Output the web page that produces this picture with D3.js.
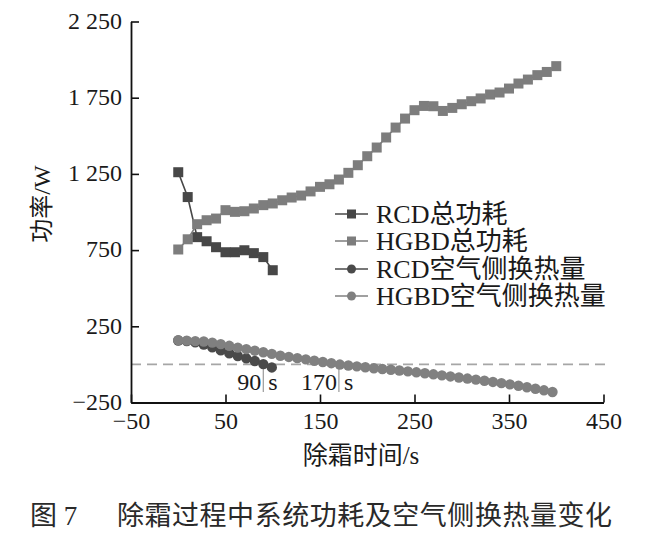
<!DOCTYPE html>
<html><head><meta charset="utf-8">
<script src="https://cdn.jsdelivr.net/npm/d3@7"></script>
<style>body{margin:0;background:#fff} svg{display:block}</style>
</head><body><svg id="c" width="657" height="537"></svg>
<script>
const rcdTotalTime = [0,10,20,30,40,50,60,70,80,90,100];
const rcdTotalPower = [1261,1098,835,808,769,736,736,749,730,704,618];
const hgbdTotalTime = [0,10,20,30,40,50,60,70,80,90,100,110,120,130,140,150,160,170,180,190,200,210,220,230,240,250,260,270,280,290,300,310,320,330,340,350,360,370,380,390,400];
const hgbdTotalPower = [754,821,920,946,957,1012,1001,1005,1023,1045,1056,1077,1095,1108,1135,1165,1182,1213,1257,1307,1366,1423,1489,1554,1613,1668,1696,1694,1663,1683,1707,1727,1745,1771,1784,1810,1843,1869,1898,1919,1957];
const rcdAirTime = [0,9,18,27,36,45,54,63,72,81,90,99];
const rcdAirHeat = [157,153,145,130,112,92,73,55,40,22,2,-20];
const hgbdAirTime = [0,9,18,27,36,45,54,63,72,81,90,99,108,117,126,135,144,153,162,171,180,189,198,207,216,225,234,243,252,261,270,279,288,297,306,315,324,333,342,351,360,369,378,387,396];
const hgbdAirHeat = [159,156,153,150,143,133,122,110,100,90,80,69,57,49,41,33,24,16,8,-1,-7,-13,-19,-25,-30,-35,-40,-46,-52,-58,-65,-72,-79,-86,-93,-100,-107,-115,-123,-131,-140,-150,-160,-170,-181];
const xTicks = [-50,50,150,250,350,450];
const xTickLabels = ["\u221250","50","150","250","350","450"];
const yTicks = [-250,250,750,1250,1750,2250];
const yTickLabels = ["\u2212250","250","750","1 250","1 750","2 250"];
const seriesNames = ["RCD总功耗","HGBD总功耗","RCD空气侧换热量","HGBD空气侧换热量"];
const seriesColors = ["#474747","#7d7d7d","#4a4a4a","#808080"];
const annotTimes = [90,170];
const annotLabels = ["90","170"];
const xTitle = "除霜时间/s";
const yTitle = "功率/W";
const captionNo = "图 7";
const captionText = "除霜过程中系统功耗及空气侧换热量变化";

const svg = d3.select("#c");
const FONT = "'Liberation Serif','Noto Sans CJK SC',serif";
const x = d3.scaleLinear().domain([-50,450]).range([131,603.5]);
const y = d3.scaleLinear().domain([-250,2250]).range([402.5,21.5]);

// zero dashed line
svg.append("line").attr("x1",x(-50)).attr("x2",607).attr("y1",y(0)).attr("y2",y(0))
  .attr("stroke","#a6a6a6").attr("stroke-width",1.6).attr("stroke-dasharray","10,6");

// axes
const gx = svg.append("g").attr("transform",`translate(0,${y(-250)})`)
  .call(d3.axisBottom(x).tickValues(xTicks).tickFormat((d,i)=>xTickLabels[i]).tickSizeInner(-8).tickSizeOuter(0).tickPadding(9));
const gy = svg.append("g").attr("transform",`translate(${x(-50)},0)`)
  .call(d3.axisLeft(y).tickValues(yTicks).tickFormat((d,i)=>yTickLabels[i]).tickSizeInner(-8).tickSizeOuter(0).tickPadding(9));
[gx,gy].forEach(g=>{
  g.select(".domain").attr("stroke","#111").attr("stroke-width",1.8);
  g.selectAll(".tick line").attr("stroke","#111").attr("stroke-width",1.6);
  g.selectAll(".tick text").attr("fill","#1a1a1a").style("font-family",FONT).style("font-size","24px");
});
gy.selectAll(".tick text").attr("dy","0.28em");

// axis titles
svg.append("text").attr("x",361).attr("y",464).attr("text-anchor","middle")
  .style("font-family",FONT).style("font-size","25px").attr("fill","#1a1a1a").text(xTitle);
svg.append("text").attr("transform","translate(50,204) rotate(-90)").attr("text-anchor","middle")
  .style("font-family",FONT).style("font-size","24px").attr("fill","#1a1a1a").text(yTitle);

// annotations
annotTimes.forEach((t,i)=>{
  const px = x(t);
  svg.append("line").attr("x1",px).attr("x2",px).attr("y1",y(0)).attr("y2",392)
    .attr("stroke","#9a9a9a").attr("stroke-width",1.2);
  svg.append("text").attr("x",px-2).attr("y",390).attr("text-anchor","end")
    .style("font-family",FONT).style("font-size","24px").attr("fill","#1a1a1a").text(annotLabels[i]);
  svg.append("text").attr("x",px+5).attr("y",390).attr("text-anchor","start")
    .style("font-family",FONT).style("font-size","24px").attr("fill","#1a1a1a").text("s");
});

const line = d3.line().x(d=>x(d[0])).y(d=>y(d[1]));
function drawSeries(ts, vs, color, shape){
  const pts = ts.map((t,i)=>[t,vs[i]]);
  svg.append("path").datum(pts).attr("d",line).attr("fill","none").attr("stroke",color).attr("stroke-width",1.6);
  if(shape==="square"){
    svg.append("g").selectAll("rect").data(pts).join("rect")
      .attr("x",d=>x(d[0])-5).attr("y",d=>y(d[1])-5).attr("width",10).attr("height",10).attr("fill",color);
  } else {
    svg.append("g").selectAll("circle").data(pts).join("circle")
      .attr("cx",d=>x(d[0])).attr("cy",d=>y(d[1])).attr("r",5.2).attr("fill",color);
  }
}
drawSeries(rcdTotalTime, rcdTotalPower, seriesColors[0], "square");
drawSeries(hgbdTotalTime, hgbdTotalPower, seriesColors[1], "square");
drawSeries(rcdAirTime, rcdAirHeat, seriesColors[2], "circle");
drawSeries(hgbdAirTime, hgbdAirHeat, seriesColors[3], "circle");

// legend
const shapes = ["square","square","circle","circle"];
const legY = [214,241,269,296];
seriesNames.forEach((n,i)=>{
  const g = svg.append("g").attr("transform",`translate(0,${legY[i]})`);
  g.append("line").attr("x1",335).attr("x2",368).attr("y1",0).attr("y2",0).attr("stroke",seriesColors[i]).attr("stroke-width",1.6);
  if(shapes[i]==="square") g.append("rect").attr("x",347).attr("y",-4.5).attr("width",9).attr("height",9).attr("fill",seriesColors[i]);
  else g.append("circle").attr("cx",351.5).attr("cy",0).attr("r",4.5).attr("fill",seriesColors[i]);
  g.append("text").attr("x",376).attr("y",9).style("font-family",FONT).style("font-size","26px").attr("fill","#1a1a1a").text(n);
});

// caption
svg.append("text").attr("x",30).attr("y",525).style("font-family",FONT).style("font-size","27px").attr("fill","#2a2a2a").text(captionNo);
svg.append("text").attr("x",117).attr("y",525).attr("textLength",495).style("font-family",FONT).style("font-size","27px").attr("fill","#2a2a2a").text(captionText);
</script></body></html>
